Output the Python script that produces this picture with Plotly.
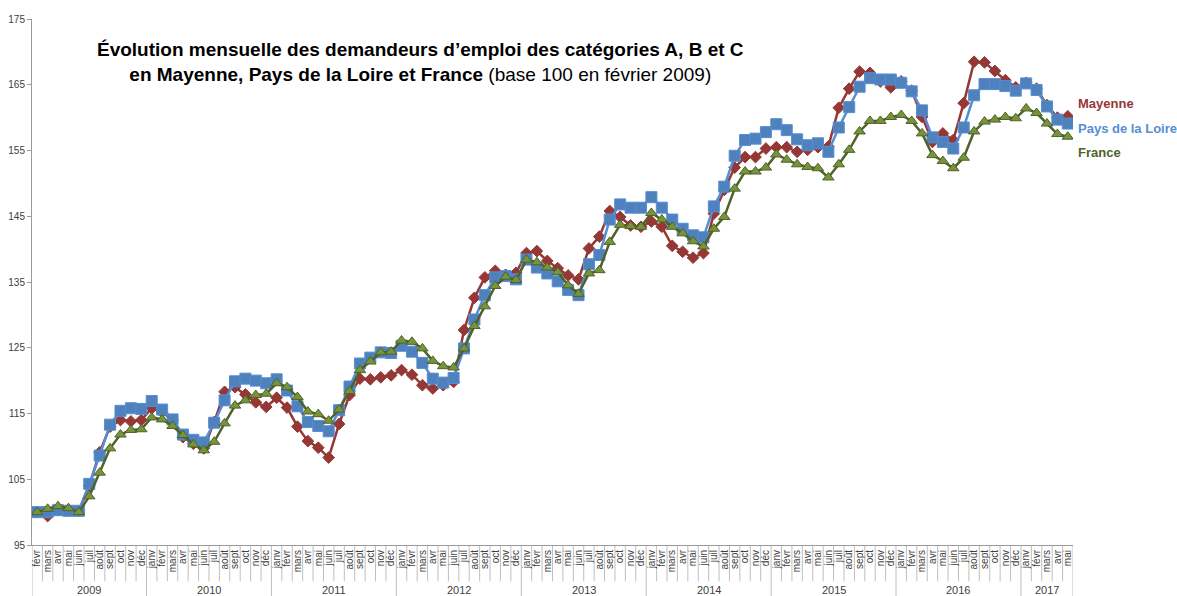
import plotly.graph_objects as go

months_all = ["janv", "févr", "mars", "avr", "mai", "juin", "juil", "août", "sept", "oct", "nov", "déc"]
years = ["2009", "2010", "2011", "2012", "2013", "2014", "2015", "2016", "2017"]

year_labels = []
month_labels = []
for y in years:
    ms = months_all
    if y == "2009":
        ms = months_all[1:]
    elif y == "2017":
        ms = months_all[:5]
    for m in ms:
        year_labels.append(y)
        month_labels.append(m)

categories = [f"{m} {y}" for m, y in zip(month_labels, year_labels)]

mayenne = [
    100.0, 99.4, 100.3, 100.3, 100.2, 104.0, 109.1, 113.0, 114.0, 113.8, 114.0,
    115.8, 115.2, 114.0, 111.4, 110.4, 109.7, 113.7, 118.3, 119.0, 117.9, 116.7, 116.0,
    117.4, 115.9, 113.0, 110.8, 109.8, 108.3, 113.4, 117.8, 120.3, 120.2, 120.5, 120.8,
    121.6, 120.9, 119.3, 118.8, 119.3, 119.8, 127.7, 132.6, 135.7, 136.7, 136.1, 136.4,
    139.4, 139.7, 138.2, 137.1, 136.0, 135.4, 140.1, 141.9, 145.8, 144.9, 143.6, 143.4,
    144.2, 143.4, 140.5, 139.6, 138.7, 139.4, 145.4, 149.0, 152.4, 154.0, 154.0, 155.3,
    155.5, 155.5, 154.8, 155.1, 155.5, 155.6, 161.5, 164.4, 167.0, 166.8, 165.5, 164.6,
    165.5, 164.1, 160.1, 156.3, 157.6, 156.6, 162.2, 168.5, 168.4, 167.1, 165.7, 164.6,
    165.3, 164.4, 161.9, 160.0, 160.2,
]

pays_de_la_loire = [
    100.0, 100.0, 100.3, 100.2, 100.2, 104.3, 108.6, 113.3, 115.4, 115.8, 115.7,
    116.9, 115.6, 114.1, 111.8, 111.0, 110.6, 113.6, 117.0, 119.9, 120.3, 120.0, 119.6,
    120.2, 118.5, 116.1, 113.7, 113.1, 112.3, 115.5, 119.1, 122.6, 123.5, 124.3, 124.2,
    125.3, 124.4, 122.7, 120.3, 119.7, 120.4, 124.9, 129.3, 133.0, 135.7, 135.9, 135.4,
    138.4, 137.2, 136.3, 135.1, 133.8, 133.0, 137.7, 139.1, 144.5, 146.8, 146.3, 146.3,
    147.9, 146.3, 144.5, 143.1, 142.1, 141.8, 146.5, 149.5, 154.2, 156.6, 156.8, 157.8,
    159.0, 158.1, 156.7, 155.8, 156.1, 154.8, 158.5, 161.6, 164.7, 166.0, 165.8, 165.8,
    165.3, 164.0, 161.1, 157.0, 156.3, 155.3, 158.5, 163.4, 165.1, 165.1, 164.8, 164.1,
    165.2, 164.2, 161.7, 159.7, 159.1,
]

france = [
    100.0, 100.5, 100.9, 100.6, 100.0, 102.4, 106.0, 109.7, 111.8, 112.5, 112.6,
    114.4, 114.1, 113.1, 111.7, 110.3, 109.4, 110.7, 113.5, 116.2, 117.0, 117.8, 118.0,
    119.6, 119.0, 117.5, 115.3, 114.9, 113.9, 115.6, 118.4, 121.6, 122.9, 124.3, 124.4,
    126.1, 125.9, 124.9, 123.0, 122.2, 122.0, 124.9, 128.3, 131.3, 134.4, 135.8, 135.3,
    138.4, 138.0, 137.2, 136.5, 134.5, 133.2, 136.3, 136.8, 141.1, 143.7, 143.5, 143.4,
    145.5, 144.5, 143.4, 142.4, 141.2, 140.4, 143.1, 144.9, 149.2, 151.8, 151.8, 152.4,
    154.4, 153.6, 152.9, 152.5, 152.3, 150.9, 152.9, 155.1, 157.9, 159.5, 159.5, 160.1,
    160.4, 159.5, 157.6, 154.3, 153.4, 152.3, 153.9, 157.9, 159.4, 159.7, 160.1, 159.9,
    161.4, 160.7, 159.1, 157.5, 157.1,
]

series_names = ["Mayenne", "Pays de la Loire", "France"]

RED = "#953735"
BLUE = "#558ED5"
BLUE_FILL = "#4F81BD"
GREEN_FILL = "#77933C"
GREEN_LINE = "#4F6228"
SEP = "#BFBFBF"

fig = go.Figure()
fig.add_trace(go.Scatter(
    x=categories, y=mayenne, name=series_names[0], mode="lines+markers",
    line=dict(color=RED, width=2.5),
    marker=dict(symbol="diamond", size=9, color=RED, line=dict(color=RED, width=1)),
))
fig.add_trace(go.Scatter(
    x=categories, y=pays_de_la_loire, name=series_names[1], mode="lines+markers",
    line=dict(color=BLUE, width=2.5),
    marker=dict(symbol="square", size=11, color=BLUE_FILL, line=dict(color=BLUE, width=1)),
))
fig.add_trace(go.Scatter(
    x=categories, y=france, name=series_names[2], mode="lines+markers",
    line=dict(color=GREEN_LINE, width=2.5),
    marker=dict(symbol="triangle-up", size=10, color=GREEN_FILL, line=dict(color=GREEN_LINE, width=1)),
))

label_font = "Liberation Sans, Arial, sans-serif"
fig.add_annotation(xref="paper", yref="y", x=1.003, y=162.2, xanchor="left", yanchor="middle",
                   text="<b>Mayenne</b>", showarrow=False, font=dict(family=label_font, size=13, color=RED))
fig.add_annotation(xref="paper", yref="y", x=1.003, y=158.4, xanchor="left", yanchor="middle",
                   text="<b>Pays de la Loire</b>", showarrow=False, font=dict(family=label_font, size=13, color=BLUE))
fig.add_annotation(xref="paper", yref="y", x=1.003, y=154.7, xanchor="left", yanchor="middle",
                   text="<b>France</b>", showarrow=False, font=dict(family=label_font, size=13, color=GREEN_LINE))

fig.add_annotation(
    xref="paper", yref="paper", x=0.373, y=0.918, xanchor="center", yanchor="middle",
    text="<b>Évolution mensuelle des demandeurs d’emploi des catégories A, B et C</b><br>"
         "<b>en Mayenne, Pays de la Loire et France</b> (base 100 en février 2009)",
    showarrow=False, align="center",
    font=dict(family=label_font, size=19, color="#000000"),
)

# month separators and year dividers / labels below the axis
n = len(categories)
for i in range(n + 1):
    is_year_break = (i == 0 or i == n or year_labels[i] != year_labels[i - 1])
    fig.add_shape(type="line", xref="x", yref="paper",
                  x0=i - 0.5, x1=i - 0.5, y0=0, y1=(-0.1 if is_year_break else -0.069),
                  line=dict(color=SEP, width=1), layer="below")

for y in years:
    idx = [i for i, yy in enumerate(year_labels) if yy == y]
    mid = (idx[0] + idx[-1]) / 2
    fig.add_annotation(xref="x", yref="paper", x=mid, y=-0.086, xanchor="center", yanchor="middle",
                       text=y, showarrow=False,
                       font=dict(family="Liberation Sans Narrow, Arial Narrow, Liberation Sans, sans-serif",
                                 size=11, color="#404040"))

tick_font = dict(family="Liberation Sans Narrow, Arial Narrow, Liberation Sans, sans-serif", size=10, color="#404040")

fig.update_layout(
    width=1177, height=596,
    margin=dict(l=32, r=104, t=19, b=51, autoexpand=False),
    paper_bgcolor="white", plot_bgcolor="white",
    showlegend=False,
    xaxis=dict(
        type="category", categoryorder="array", categoryarray=categories,
        range=[-0.5, n - 0.5],
        tickmode="array", tickvals=categories, ticktext=month_labels,
        showline=True, linecolor="#9A9A9A", linewidth=1,
        ticks="", tickangle=-90, tickfont=tick_font,
        showgrid=False, automargin=False,
    ),
    yaxis=dict(
        range=[95, 175], dtick=10, tick0=95,
        showline=True, linecolor="#9A9A9A", linewidth=1,
        ticks="outside", ticklen=4, tickcolor="#9A9A9A",
        tickfont=tick_font, showgrid=False, zeroline=False, automargin=False,
    ),
)

fig.write_html("out.html", config={"displayModeBar": False},
               post_script="document.body.style.margin='0';document.body.style.overflow='hidden';")
